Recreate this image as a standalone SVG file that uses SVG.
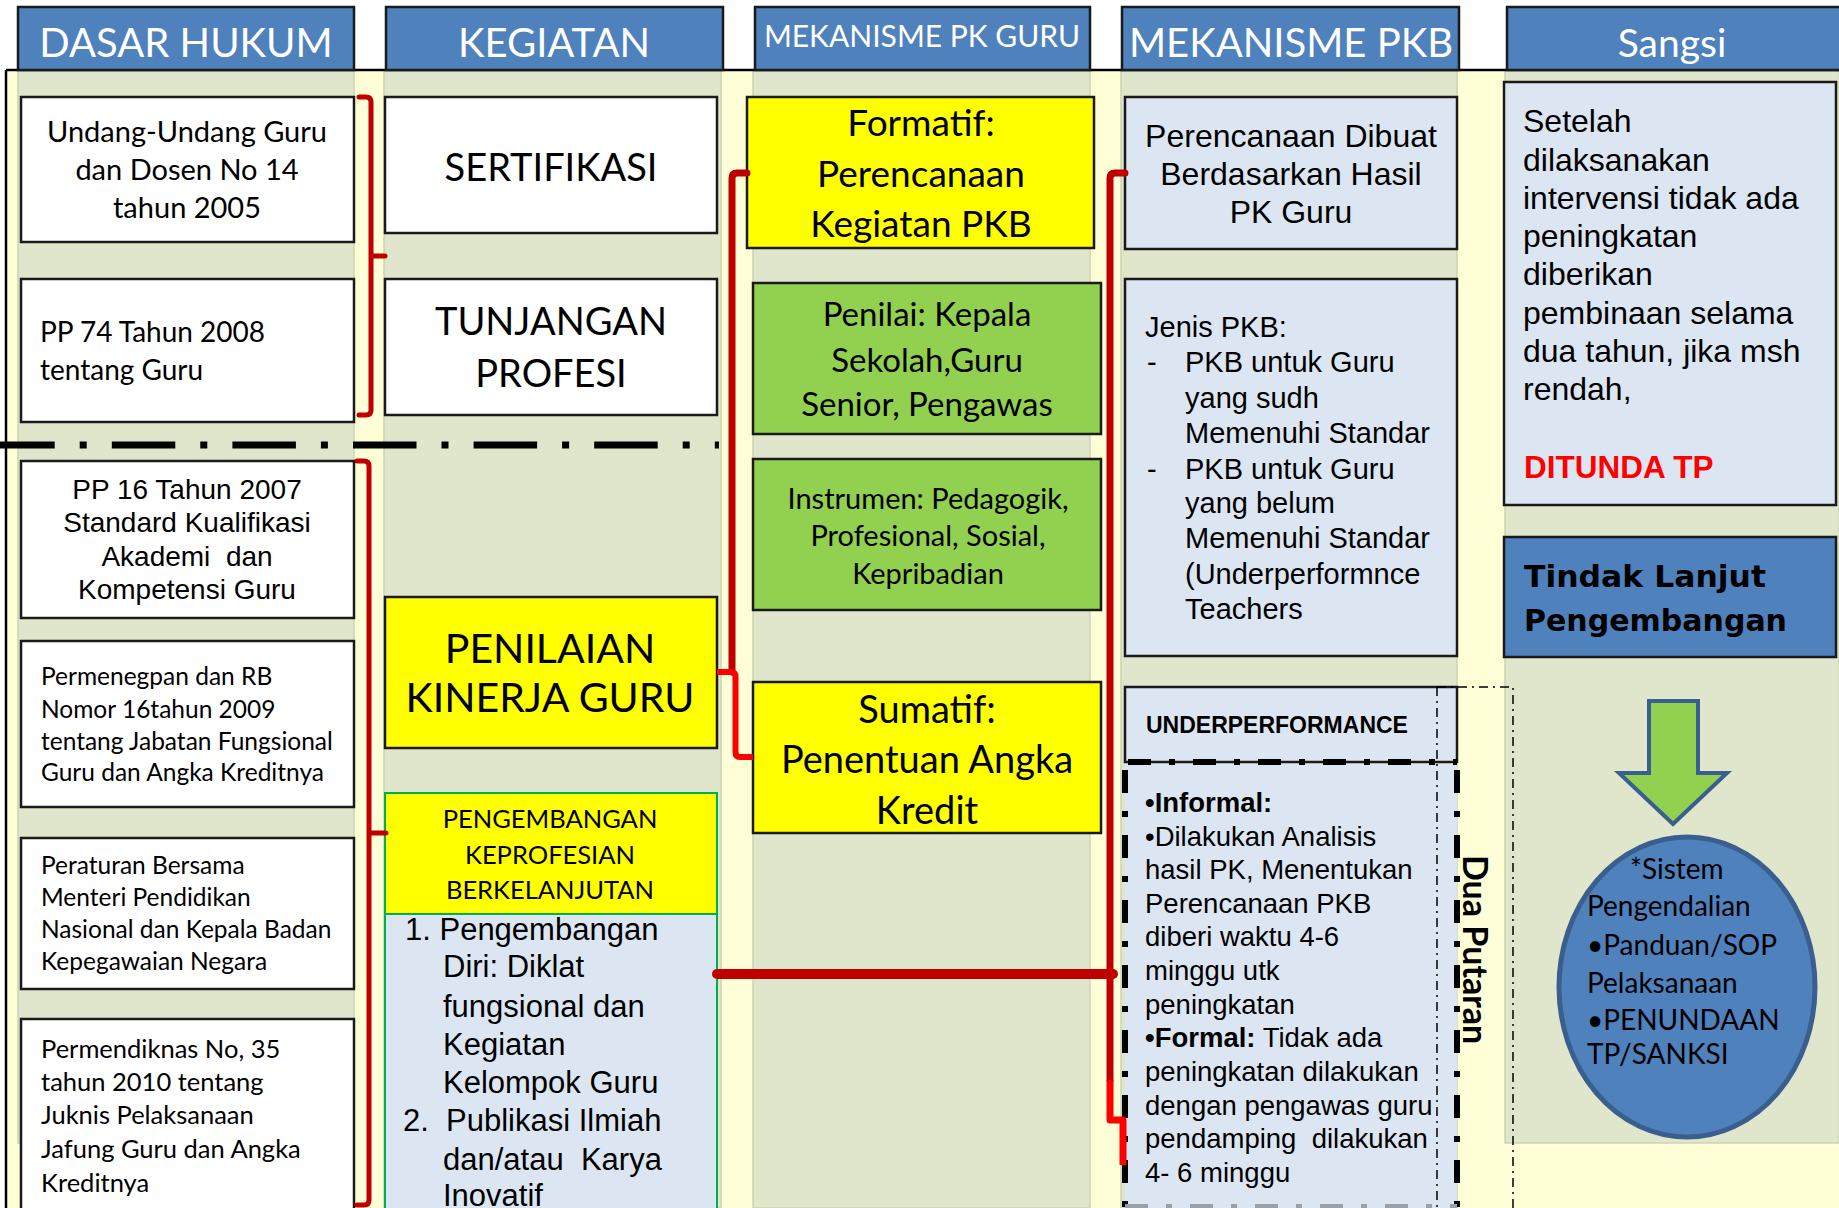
<svg xmlns="http://www.w3.org/2000/svg" width="1839" height="1208" viewBox="0 0 1839 1208">
<style>
.bg{fill:#FFFFD7}
.band{fill:#DFE6CC;stroke:#CDD4B2;stroke-width:1.5}
.hdr{fill:#4F81BD;stroke:#1A1A1A;stroke-width:2.5}
.ht{font-family:Lato,"Liberation Sans",sans-serif;fill:#FFFFFF;text-anchor:middle}
.wbox{fill:#FFFFFF;stroke:#1A1A1A;stroke-width:2.5}
.ybox{fill:#FFFF00;stroke:#1A1A1A;stroke-width:2.5}
.gbox{fill:#92D050;stroke:#1A1A1A;stroke-width:2.5}
.lbox{fill:#DCE6F2;stroke:#1A1A1A;stroke-width:2.5}
.gs{font-family:Lato,"Liberation Sans",sans-serif;fill:#000}
.ar{font-family:"Liberation Sans",Arial,sans-serif;fill:#000}
.c{text-anchor:middle}
.b{font-weight:bold}
.dk{fill:none;stroke:#C00000;stroke-linecap:round;stroke-linejoin:round}
.br{fill:none;stroke:#FF0000;stroke-linejoin:round}
.thick{fill:none;stroke:#000;stroke-width:6;stroke-dasharray:23 18 6 18}
.thin{fill:none;stroke:#000;stroke-width:1.5;stroke-dasharray:9 5 2 5}
</style>
<rect x="0" y="0" width="1839" height="1208" fill="#FFFFFF"/>
<g id="background">
<rect class="bg" x="6" y="70" width="1833" height="1138"/>
<rect class="band" x="18" y="70" width="336" height="1073"/>
<rect class="band" x="384" y="70" width="337" height="1138"/>
<rect class="band" x="753" y="70" width="337" height="1138"/>
<rect class="band" x="1121" y="70" width="336" height="1138"/>
<rect class="band" x="1505" y="70" width="334" height="1073"/>
<path d="M6 70 H1839 M6 70 V1208" fill="none" stroke="#000" stroke-width="2.5"/>
</g>

<g id="headers">
<rect class="hdr" x="18" y="7" width="336" height="63"/>
<text class="ht" x="186" y="57" font-size="40">DASAR HUKUM</text>
<rect class="hdr" x="386" y="7" width="337" height="63"/>
<text class="ht" x="554" y="57" font-size="40">KEGIATAN</text>
<rect class="hdr" x="755" y="7" width="335" height="63"/>
<text class="ht" x="922" y="47" font-size="30">MEKANISME PK GURU</text>
<rect class="hdr" x="1122" y="7" width="337" height="63"/>
<text class="ht" x="1291" y="57" font-size="40">MEKANISME PKB</text>
<rect class="hdr" x="1507" y="7" width="340" height="63"/>
<text class="ht" x="1672" y="57" font-size="39">Sangsi</text>
</g>

<g id="separator">
<path d="M0 445 H719" fill="none" stroke="#000" stroke-width="7" stroke-dasharray="63.5 25 7 25.1" stroke-dashoffset="8.8"/>
</g>

<g id="uu-guru-dosen">
<rect class="wbox" x="21" y="97" width="333" height="145"/>
<text class="gs c" font-size="29"><tspan x="187" y="142">Undang-Undang Guru</tspan><tspan x="187" y="180">dan Dosen No 14</tspan><tspan x="187" y="218">tahun 2005</tspan></text>
</g>
<g id="pp74">
<rect class="wbox" x="21" y="279" width="333" height="143"/>
<text class="gs" font-size="28"><tspan x="40" y="342">PP 74 Tahun 2008</tspan><tspan x="40" y="380">tentang Guru</tspan></text>
</g>
<g id="pp16">
<rect class="wbox" x="21" y="461" width="333" height="157"/>
<text class="ar c" font-size="28"><tspan x="187" y="499">PP 16 Tahun 2007</tspan><tspan x="187" y="532">Standard Kualifikasi</tspan><tspan x="187" y="566">Akademi &#160;dan</tspan><tspan x="187" y="599">Kompetensi Guru</tspan></text>
</g>
<g id="permenegpan">
<rect class="wbox" x="21" y="641" width="333" height="166"/>
<text class="gs" font-size="24.5"><tspan x="41" y="685">Permenegpan dan RB</tspan><tspan x="41" y="718">Nomor 16tahun 2009</tspan><tspan x="41" y="750">tentang Jabatan Fungsional</tspan><tspan x="41" y="781">Guru dan Angka Kreditnya</tspan></text>
</g>
<g id="peraturan-bersama">
<rect class="wbox" x="21" y="838" width="333" height="151"/>
<text class="gs" font-size="24.5"><tspan x="41" y="874">Peraturan Bersama</tspan><tspan x="41" y="906">Menteri Pendidikan</tspan><tspan x="41" y="938">Nasional dan Kepala Badan</tspan><tspan x="41" y="970">Kepegawaian Negara</tspan></text>
</g>
<g id="permendiknas">
<rect class="wbox" x="21" y="1019" width="333" height="200"/>
<text class="gs" font-size="25.5"><tspan x="41" y="1058">Permendiknas No, 35</tspan><tspan x="41" y="1091">tahun 2010 tentang</tspan><tspan x="41" y="1124">Juknis Pelaksanaan</tspan><tspan x="41" y="1158">Jafung Guru dan Angka</tspan><tspan x="41" y="1192">Kreditnya</tspan></text>
</g>

<g id="sertifikasi">
<rect class="wbox" x="385" y="97" width="332" height="136"/>
<text class="gs c" x="551" y="181" font-size="38">SERTIFIKASI</text>
</g>
<g id="tunjangan-profesi">
<rect class="wbox" x="385" y="279" width="332" height="136"/>
<text class="gs c" font-size="38"><tspan x="551" y="335">TUNJANGAN</tspan><tspan x="551" y="387">PROFESI</tspan></text>
</g>
<g id="penilaian-kinerja-guru">
<rect class="ybox" x="385" y="597" width="332" height="151"/>
<text class="gs c" font-size="41"><tspan x="550" y="663">PENILAIAN</tspan><tspan x="550" y="712">KINERJA GURU</tspan></text>
</g>
<g id="pkb">
<rect x="385" y="914" width="332" height="310" fill="#DCE6F2" stroke="#00B050" stroke-width="2"/>
<rect x="385" y="793" width="332" height="121" fill="#FFFF00" stroke="#00B050" stroke-width="2"/>
<text class="gs c" font-size="25.5"><tspan x="550" y="828">PENGEMBANGAN</tspan><tspan x="550" y="864">KEPROFESIAN</tspan><tspan x="550" y="899">BERKELANJUTAN</tspan></text>
<text class="ar" font-size="31"><tspan x="405" y="940">1. Pengembangan</tspan><tspan x="443" y="977">Diri: Diklat</tspan><tspan x="443" y="1017">fungsional dan</tspan><tspan x="443" y="1055">Kegiatan</tspan><tspan x="443" y="1093">Kelompok Guru</tspan><tspan x="403" y="1131">2. &#160;Publikasi Ilmiah</tspan><tspan x="443" y="1170">dan/atau &#160;Karya</tspan><tspan x="443" y="1206">Inovatif</tspan></text>
</g>

<g id="formatif">
<rect class="ybox" x="747" y="97" width="347" height="151"/>
<text class="gs c" font-size="37"><tspan x="921" y="136">Formatif:</tspan><tspan x="921" y="187">Perencanaan</tspan><tspan x="921" y="237">Kegiatan PKB</tspan></text>
</g>
<g id="penilai">
<rect class="gbox" x="753" y="283" width="348" height="151"/>
<text class="gs c" font-size="33"><tspan x="927" y="326">Penilai: Kepala</tspan><tspan x="927" y="372">Sekolah,Guru</tspan><tspan x="927" y="416">Senior, Pengawas</tspan></text>
</g>
<g id="instrumen">
<rect class="gbox" x="753" y="459" width="348" height="151"/>
<text class="gs c" font-size="29"><tspan x="928" y="509">Instrumen: Pedagogik,</tspan><tspan x="928" y="546">Profesional, Sosial,</tspan><tspan x="928" y="584">Kepribadian</tspan></text>
</g>
<g id="sumatif">
<rect class="ybox" x="753" y="682" width="348" height="151"/>
<text class="gs c" font-size="38"><tspan x="927" y="723">Sumatif:</tspan><tspan x="927" y="773">Penentuan Angka</tspan><tspan x="927" y="824">Kredit</tspan></text>
</g>

<g id="perencanaan-dibuat">
<rect class="lbox" x="1125" y="97" width="332" height="152"/>
<text class="ar c" font-size="32"><tspan x="1291" y="147">Perencanaan Dibuat</tspan><tspan x="1291" y="185">Berdasarkan Hasil</tspan><tspan x="1291" y="223">PK Guru</tspan></text>
</g>
<g id="jenis-pkb">
<rect class="lbox" x="1125" y="279" width="332" height="377"/>
<text class="ar" font-size="29"><tspan x="1145" y="337">Jenis PKB:</tspan><tspan x="1147" y="372">-</tspan><tspan x="1185" y="372">PKB untuk Guru</tspan><tspan x="1185" y="408">yang sudh</tspan><tspan x="1185" y="443">Memenuhi Standar</tspan><tspan x="1147" y="479">-</tspan><tspan x="1185" y="479">PKB untuk Guru</tspan><tspan x="1185" y="513">yang belum</tspan><tspan x="1185" y="548">Memenuhi Standar</tspan><tspan x="1185" y="584">(Underperformnce</tspan><tspan x="1185" y="619">Teachers</tspan></text>
</g>
<g id="underperformance">
<rect x="1125" y="762" width="332" height="460" fill="#DCE6F2"/>
<rect class="lbox" x="1125" y="687" width="332" height="75" stroke-width="2"/>
<text class="ar b" x="1146" y="733" font-size="23">UNDERPERFORMANCE</text>
<path class="thick" d="M1128 762 H1457"/>
<path class="thick" d="M1125 770 V1208"/>
<path class="thick" d="M1457 770 V1208"/>
<path d="M1125 1206 H1457" fill="none" stroke="#9AA0A8" stroke-width="4" stroke-dasharray="23 18 6 18"/>
<path class="thin" d="M1437 687 V1208 M1437 687 H1513 V1208"/>
<text class="ar" font-size="27.5"><tspan x="1145" y="812" font-weight="bold">•Informal:</tspan><tspan x="1145" y="846">•Dilakukan Analisis</tspan><tspan x="1145" y="879">hasil PK, Menentukan</tspan><tspan x="1145" y="913">Perencanaan PKB</tspan><tspan x="1145" y="946">diberi waktu 4-6</tspan><tspan x="1145" y="980">minggu utk</tspan><tspan x="1145" y="1014">peningkatan</tspan><tspan x="1145" y="1047" font-weight="bold">•Formal:</tspan><tspan> Tidak ada</tspan><tspan x="1145" y="1081">peningkatan dilakukan</tspan><tspan x="1145" y="1115">dengan pengawas guru</tspan><tspan x="1145" y="1148">pendamping &#160;dilakukan</tspan><tspan x="1145" y="1182">4- 6 minggu</tspan></text>
<text class="gs b" font-size="34" transform="translate(1463 855) rotate(90)" x="0" y="0">Dua Putaran</text>
</g>

<g id="setelah">
<rect class="lbox" x="1504" y="82" width="332" height="423"/>
<text class="ar" font-size="32"><tspan x="1523" y="132">Setelah</tspan><tspan x="1523" y="171">dilaksanakan</tspan><tspan x="1523" y="209">intervensi tidak ada</tspan><tspan x="1523" y="247">peningkatan</tspan><tspan x="1523" y="285">diberikan</tspan><tspan x="1523" y="324">pembinaan selama</tspan><tspan x="1523" y="362">dua tahun, jika msh</tspan><tspan x="1523" y="400">rendah,</tspan></text>
<text class="ar b" x="1524" y="478" font-size="31.5" style="fill:#FF0000">DITUNDA TP</text>
</g>
<g id="tindak-lanjut">
<rect x="1504" y="537" width="332" height="120" fill="#4F81BD" stroke="#1A1A1A" stroke-width="2.5"/>
<text font-family="'DejaVu Sans',Verdana,sans-serif" font-weight="bold" font-size="31" fill="#000"><tspan x="1524" y="587" textLength="242" lengthAdjust="spacingAndGlyphs">Tindak Lanjut</tspan><tspan x="1524" y="631" textLength="263" lengthAdjust="spacingAndGlyphs">Pengembangan</tspan></text>
</g>
<g id="arrow-down">
<polygon points="1649,701 1698,701 1698,773 1727,773 1673,824 1619,773 1649,773" fill="#92D050" stroke="#3A5F8F" stroke-width="4" stroke-linejoin="miter"/>
</g>
<g id="sistem-pengendalian">
<ellipse cx="1687" cy="987" rx="128" ry="150" fill="#4F81BD" stroke="#3A5F8F" stroke-width="5"/>
<text class="gs" font-size="28"><tspan x="1630" y="879">*Sistem</tspan><tspan x="1587" y="916">Pengendalian</tspan><tspan x="1587" y="955">•Panduan/SOP</tspan><tspan x="1587" y="993">Pelaksanaan</tspan><tspan x="1587" y="1030">•PENUNDAAN</tspan><tspan x="1587" y="1064">TP/SANKSI</tspan></text>
</g>

<g id="connectors">
<path class="dk" stroke-width="5" d="M359 97 H366 Q371 97 371 102 V410 Q371 415 366 415 H359 M371 256 H385"/>
<path class="dk" stroke-width="5" d="M357 461 H364 Q369 461 369 466 V1200 Q369 1205 364 1205 H357 M369 833 H386"/>
<path class="dk" stroke-width="7" stroke-linecap="butt" d="M747 173 H737 Q732 173 732 178 V672"/>
<path class="br" stroke-width="6" d="M717 672 H731 Q735.5 672 735.5 677 V752 Q735.5 757 740 757 H753"/>
<path class="dk" stroke-width="10" stroke-linecap="butt" d="M717 974 H1113"/>
<path class="dk" stroke-width="7" stroke-linecap="butt" d="M1125 173 H1115 Q1110 173 1110 178 V1080"/>
<path class="br" stroke-width="7" d="M1110 1080 V1120 H1123 V1165"/>
</g>
</svg>
